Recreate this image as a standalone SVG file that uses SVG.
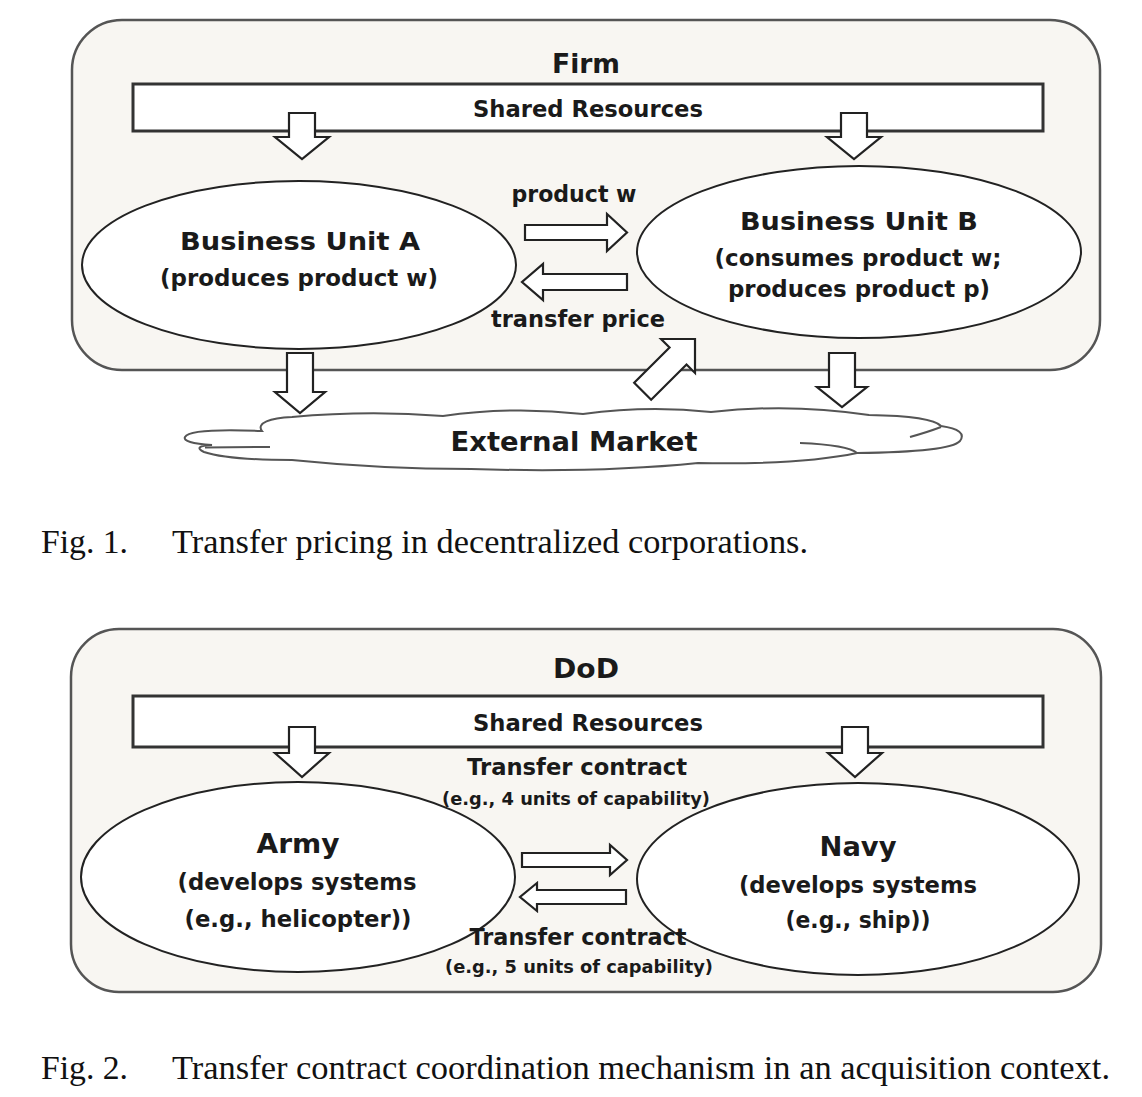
<svg xmlns="http://www.w3.org/2000/svg" width="1142" height="1097" viewBox="0 0 1142 1097">
  <style>
    .frame { fill: #f8f6f2; stroke: #555555; stroke-width: 2.5; }
    .shared { fill: #ffffff; stroke: #333333; stroke-width: 3; }
    .node { fill: #ffffff; stroke: #222222; stroke-width: 2; }
    .arrow { fill: #ffffff; stroke: #222222; stroke-width: 2.2; stroke-linejoin: miter; }
    .cloud { fill: #ffffff; stroke: #555555; stroke-width: 2; }
    .cloudline { fill: none; stroke: #555555; stroke-width: 2; }
    .t { font-family: "DejaVu Sans", "Liberation Sans", sans-serif; font-weight: bold; fill: #1a1a1a; text-anchor: middle; }
    .cap { font-family: "Liberation Serif", "Times New Roman", serif; font-size: 33px; fill: #111111; }
  </style>
  <rect width="1142" height="1097" fill="#ffffff"/>

  <!-- ===== Figure 1 ===== -->
  <g id="fig1-firm">
    <rect class="frame" x="72" y="20" width="1028" height="350" rx="50" ry="50"/>
    <text class="t" x="586" y="73" font-size="26" textLength="68" lengthAdjust="spacingAndGlyphs">Firm</text>
  </g>
  <g id="fig1-shared">
    <rect class="shared" x="133" y="84" width="910" height="47"/>
    <text class="t" x="588" y="117" font-size="23" textLength="230" lengthAdjust="spacingAndGlyphs">Shared Resources</text>
  </g>
  <g id="fig1-unitA">
    <ellipse class="node" cx="299" cy="265" rx="217" ry="84"/>
    <text class="t" x="300" y="250" font-size="25" textLength="240" lengthAdjust="spacingAndGlyphs">Business Unit A</text>
    <text class="t" x="299" y="286" font-size="22.5" textLength="278" lengthAdjust="spacingAndGlyphs">(produces product w)</text>
  </g>
  <g id="fig1-unitB">
    <ellipse class="node" cx="859" cy="252" rx="222" ry="86"/>
    <text class="t" x="859" y="230" font-size="25" textLength="238" lengthAdjust="spacingAndGlyphs">Business Unit B</text>
    <text class="t" x="858" y="266" font-size="22.5" textLength="287" lengthAdjust="spacingAndGlyphs">(consumes product w;</text>
    <text class="t" x="859" y="297" font-size="22.5" textLength="262" lengthAdjust="spacingAndGlyphs">produces product p)</text>
  </g>
  <g id="fig1-market">
    <path class="cloud" d="M 262,431 C 256,423 270,418 292,417 Q 368,410 443,416 Q 513,406 583,414 Q 648,405 711,412 Q 790,403 869,415 Q 932,416 941,426 Q 968,430 960,441 Q 950,452 857,453 Q 800,465 698,463 Q 600,473 471,469 Q 380,469 292,460 Q 228,460 204,452 Q 192,446 212,445 Q 182,443 185,437 Q 190,428 262,431 Z"/>
    <path class="cloudline" d="M 205,447.5 L 270,447"/>
    <path class="cloudline" d="M 910,437 Q 928,432 941,427"/>
    <path class="cloudline" d="M 800,443 Q 848,445 857,453"/>
    <text class="t" x="574" y="451" font-size="27" textLength="247" lengthAdjust="spacingAndGlyphs">External Market</text>
  </g>
  <g id="fig1-connectors">
    <polygon class="arrow" points="289,113 315,113 315,137 329,137 302,159 275,137 289,137"/>
    <polygon class="arrow" points="841,113 867,113 867,137 881,137 854,159 827,137 841,137"/>
    <polygon class="arrow" points="525,225 607,225 607,214 627,232.5 607,251 607,240 525,240"/>
    <polygon class="arrow" points="627,274 543,274 543,264 522,282 543,300 543,290 627,290"/>
    <polygon class="arrow" points="287,353 313,353 313,392 325,392 300,413 275,392 287,392"/>
    <polygon class="arrow" points="829,353 855,353 855,387 867,387 842,407 817,387 829,387"/>
    <polygon class="arrow" transform="translate(695,339) rotate(-45)" points="0,0 -24,-24 -24,-12 -74,-12 -74,12 -24,12 -24,24"/>
    <text class="t" x="574" y="202" font-size="22.5" textLength="125" lengthAdjust="spacingAndGlyphs">product w</text>
    <text class="t" x="578" y="327" font-size="22.5" textLength="174" lengthAdjust="spacingAndGlyphs">transfer price</text>
  </g>
  <g id="fig1-caption">
    <text class="cap" x="41" y="553" textLength="87" lengthAdjust="spacingAndGlyphs">Fig. 1.</text>
    <text class="cap" x="172" y="553" textLength="636" lengthAdjust="spacingAndGlyphs">Transfer pricing in decentralized corporations.</text>
  </g>

  <!-- ===== Figure 2 ===== -->
  <g id="fig2-dod">
    <rect class="frame" x="71" y="629" width="1030" height="363" rx="48" ry="48"/>
    <text class="t" x="586" y="678" font-size="26" textLength="66" lengthAdjust="spacingAndGlyphs">DoD</text>
  </g>
  <g id="fig2-shared">
    <rect class="shared" x="133" y="696" width="910" height="51"/>
    <text class="t" x="588" y="731" font-size="23" textLength="230" lengthAdjust="spacingAndGlyphs">Shared Resources</text>
  </g>
  <g id="fig2-army">
    <ellipse class="node" cx="298" cy="877" rx="217" ry="95"/>
    <text class="t" x="298" y="853" font-size="26" textLength="83" lengthAdjust="spacingAndGlyphs">Army</text>
    <text class="t" x="297" y="890" font-size="23" textLength="239" lengthAdjust="spacingAndGlyphs">(develops systems</text>
    <text class="t" x="298" y="927" font-size="23" textLength="227" lengthAdjust="spacingAndGlyphs">(e.g., helicopter))</text>
  </g>
  <g id="fig2-navy">
    <ellipse class="node" cx="858" cy="879" rx="221" ry="96"/>
    <text class="t" x="858" y="856" font-size="26" textLength="77" lengthAdjust="spacingAndGlyphs">Navy</text>
    <text class="t" x="858" y="893" font-size="23" textLength="238" lengthAdjust="spacingAndGlyphs">(develops systems</text>
    <text class="t" x="858" y="928" font-size="23" textLength="145" lengthAdjust="spacingAndGlyphs">(e.g., ship))</text>
  </g>
  <g id="fig2-connectors">
    <polygon class="arrow" points="289,727 315,727 315,753 329,753 302,777 275,753 289,753"/>
    <polygon class="arrow" points="842,727 868,727 868,753 882,753 855,777 828,753 842,753"/>
    <polygon class="arrow" points="522,853 610,853 610,845 627,860 610,875 610,867 522,867"/>
    <polygon class="arrow" points="626,890 537,890 537,883 520,897 537,911 537,904 626,904"/>
    <text class="t" x="577" y="775" font-size="22.5" textLength="220" lengthAdjust="spacingAndGlyphs">Transfer contract</text>
    <text class="t" x="576" y="805" font-size="18" textLength="268" lengthAdjust="spacingAndGlyphs">(e.g., 4 units of capability)</text>
    <text class="t" x="578" y="945" font-size="22.5" textLength="217" lengthAdjust="spacingAndGlyphs">Transfer contract</text>
    <text class="t" x="579" y="973" font-size="18" textLength="268" lengthAdjust="spacingAndGlyphs">(e.g., 5 units of capability)</text>
  </g>
  <g id="fig2-caption">
    <text class="cap" x="41" y="1079" textLength="87" lengthAdjust="spacingAndGlyphs">Fig. 2.</text>
    <text class="cap" x="172" y="1079" textLength="938" lengthAdjust="spacingAndGlyphs">Transfer contract coordination mechanism in an acquisition context.</text>
  </g>
</svg>
